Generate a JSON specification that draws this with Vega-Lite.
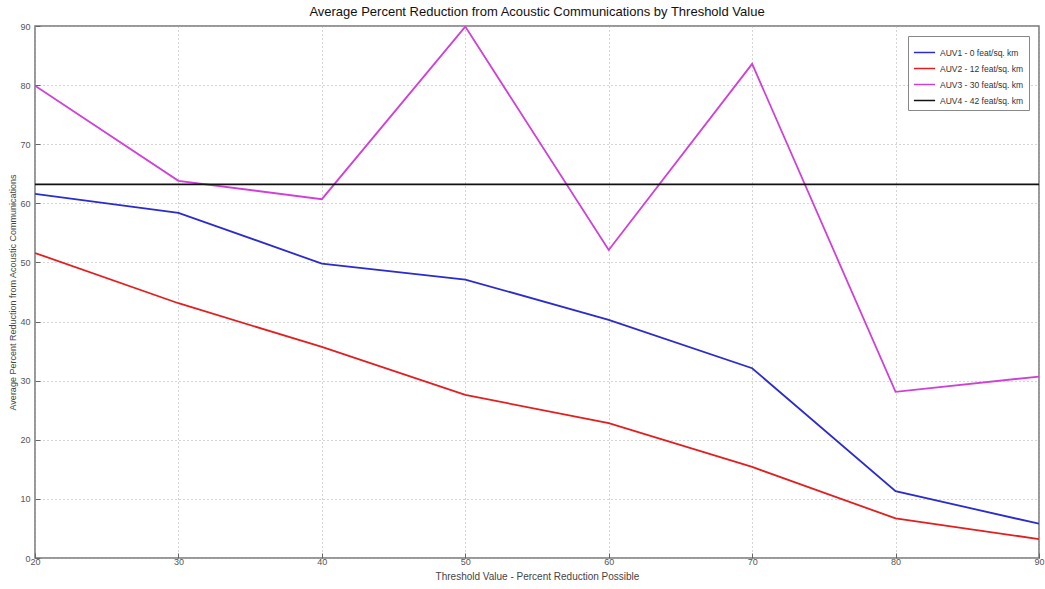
{
  "$schema": "https://vega.github.io/schema/vega-lite/v6.json",
  "width": 1004,
  "height": 532,
  "autosize": {"type": "none"},
  "padding": {"left": 35, "top": 26, "right": 6, "bottom": 31},
  "background": "white",
  "config": {
    "font": "Liberation Sans",
    "view": {"stroke": "#777", "strokeWidth": 1.5},
    "axis": {
      "labelFont": "Liberation Sans",
      "titleFont": "Liberation Sans",
      "labelColor": "#555",
      "titleColor": "#444",
      "labelFontSize": 9,
      "titleFontSize": 10,
      "titleFontWeight": "normal",
      "grid": true,
      "gridColor": "#aaa",
      "gridDash": [1, 3],
      "gridWidth": 1,
      "domain": false,
      "tickColor": "#666",
      "tickSize": -5,
      "labelPadding": 8,
      "labelFlush": false
    }
  },
  "title": {
    "text": "Average Percent Reduction from Acoustic Communications by Threshold Value",
    "fontSize": 13,
    "fontWeight": "normal",
    "color": "#111",
    "font": "Liberation Sans",
    "anchor": "middle",
    "offset": 3
  },
  "data": {
    "values": [
      {"threshold": 20, "value": 61.6, "series": "AUV1 - 0 feat/sq. km"},
      {"threshold": 30, "value": 58.4, "series": "AUV1 - 0 feat/sq. km"},
      {"threshold": 40, "value": 49.8, "series": "AUV1 - 0 feat/sq. km"},
      {"threshold": 50, "value": 47.1, "series": "AUV1 - 0 feat/sq. km"},
      {"threshold": 60, "value": 40.3, "series": "AUV1 - 0 feat/sq. km"},
      {"threshold": 70, "value": 32.1, "series": "AUV1 - 0 feat/sq. km"},
      {"threshold": 80, "value": 11.3, "series": "AUV1 - 0 feat/sq. km"},
      {"threshold": 90, "value": 5.8, "series": "AUV1 - 0 feat/sq. km"},
      {"threshold": 20, "value": 51.6, "series": "AUV2 - 12 feat/sq. km"},
      {"threshold": 30, "value": 43.1, "series": "AUV2 - 12 feat/sq. km"},
      {"threshold": 40, "value": 35.7, "series": "AUV2 - 12 feat/sq. km"},
      {"threshold": 50, "value": 27.6, "series": "AUV2 - 12 feat/sq. km"},
      {"threshold": 60, "value": 22.8, "series": "AUV2 - 12 feat/sq. km"},
      {"threshold": 70, "value": 15.4, "series": "AUV2 - 12 feat/sq. km"},
      {"threshold": 80, "value": 6.7, "series": "AUV2 - 12 feat/sq. km"},
      {"threshold": 90, "value": 3.2, "series": "AUV2 - 12 feat/sq. km"},
      {"threshold": 20, "value": 79.9, "series": "AUV3 - 30 feat/sq. km"},
      {"threshold": 30, "value": 63.8, "series": "AUV3 - 30 feat/sq. km"},
      {"threshold": 40, "value": 60.7, "series": "AUV3 - 30 feat/sq. km"},
      {"threshold": 50, "value": 89.9, "series": "AUV3 - 30 feat/sq. km"},
      {"threshold": 60, "value": 52.1, "series": "AUV3 - 30 feat/sq. km"},
      {"threshold": 70, "value": 83.6, "series": "AUV3 - 30 feat/sq. km"},
      {"threshold": 80, "value": 28.1, "series": "AUV3 - 30 feat/sq. km"},
      {"threshold": 90, "value": 30.7, "series": "AUV3 - 30 feat/sq. km"},
      {"threshold": 20, "value": 63.2, "series": "AUV4 - 42 feat/sq. km"},
      {"threshold": 30, "value": 63.2, "series": "AUV4 - 42 feat/sq. km"},
      {"threshold": 40, "value": 63.2, "series": "AUV4 - 42 feat/sq. km"},
      {"threshold": 50, "value": 63.2, "series": "AUV4 - 42 feat/sq. km"},
      {"threshold": 60, "value": 63.2, "series": "AUV4 - 42 feat/sq. km"},
      {"threshold": 70, "value": 63.2, "series": "AUV4 - 42 feat/sq. km"},
      {"threshold": 80, "value": 63.2, "series": "AUV4 - 42 feat/sq. km"},
      {"threshold": 90, "value": 63.2, "series": "AUV4 - 42 feat/sq. km"}
    ]
  },
  "mark": {"type": "line", "strokeWidth": 1.8, "clip": true},
  "encoding": {
    "x": {
      "field": "threshold",
      "type": "quantitative",
      "scale": {"domain": [20, 90], "nice": false, "zero": false},
      "axis": {"values": [20, 30, 40, 50, 60, 70, 80, 90], "title": "Threshold Value - Percent Reduction Possible", "titlePadding": 5, "labelPadding": 4}
    },
    "y": {
      "field": "value",
      "type": "quantitative",
      "scale": {"domain": [0, 90], "nice": false},
      "axis": {"values": [0, 10, 20, 30, 40, 50, 60, 70, 80, 90], "title": "Average Percent Reduction from Acoustic Communications", "titleFontSize": 9, "titlePadding": 2, "labelPadding": 10}
    },
    "color": {
      "field": "series",
      "type": "nominal",
      "scale": {
        "domain": ["AUV1 - 0 feat/sq. km", "AUV2 - 12 feat/sq. km", "AUV3 - 30 feat/sq. km", "AUV4 - 42 feat/sq. km"],
        "range": ["#2b2bd0", "#e41e1e", "#d040d8", "#111111"]
      },
      "legend": {
        "title": null,
        "orient": "none",
        "legendX": 873,
        "legendY": 10,
        "symbolType": "stroke",
        "symbolSize": 450,
        "symbolStrokeWidth": 1.5,
        "labelFontSize": 8.5,
        "labelColor": "#333",
        "rowPadding": 0,
        "labelOffset": 4,
        "fillColor": "white",
        "strokeColor": "#888",
        "padding": 5
      }
    }
  }
}
